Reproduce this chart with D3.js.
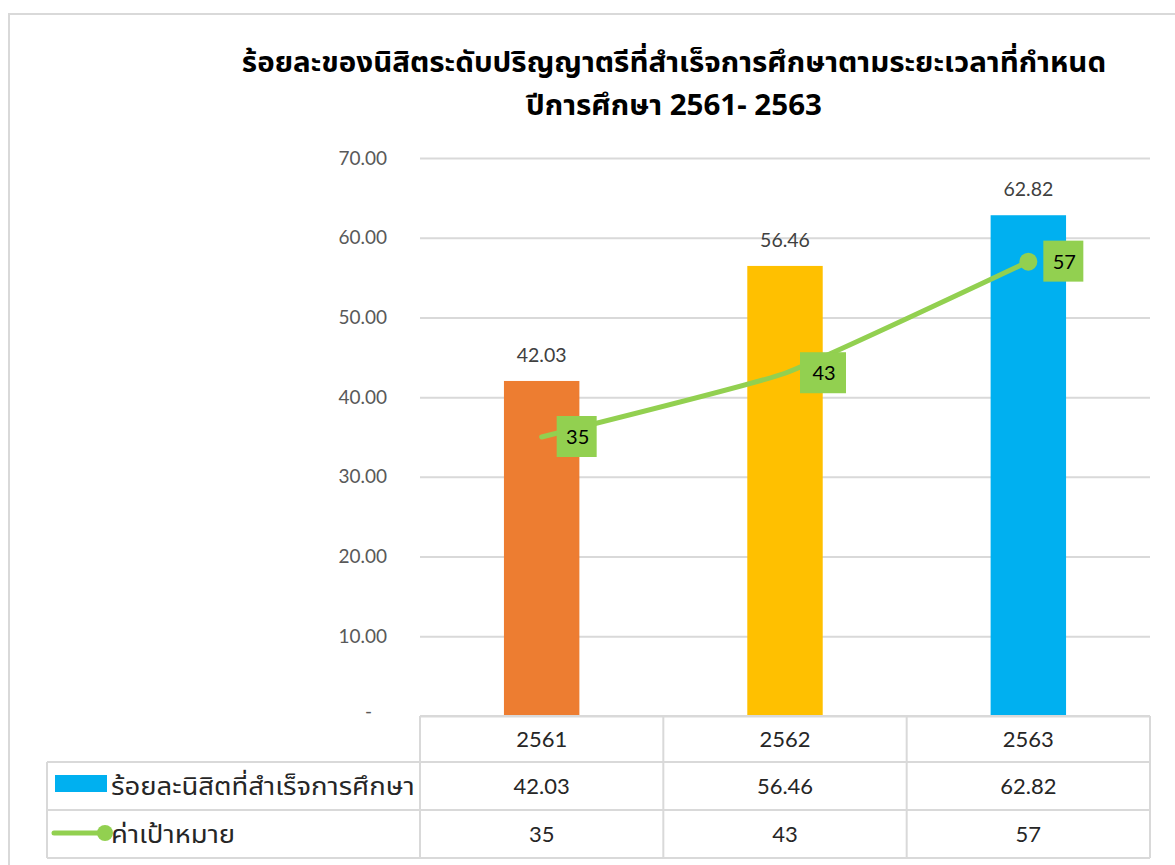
<!DOCTYPE html>
<html>
<head>
<meta charset="utf-8">
<script src="https://cdn.jsdelivr.net/npm/d3@7"></script>
<style>
  body { margin: 0; background: #fff; }
  svg { display: block; font-family: "Noto Sans", "Noto Sans Thai", Lato, sans-serif; }
</style>
</head>
<body>
<div id="chart"></div>
<script>
(function () {
    // data
    const years = ["2561", "2562", "2563"];
    const gradRate = [42.03, 56.46, 62.82];
    const target = [35, 43, 57];
    const barColors = ["#ed7d31", "#ffc000", "#00b0f0"];
    const yTicks = [0, 10, 20, 30, 40, 50, 60, 70];
    const seriesNames = ["ร้อยละนิสิตที่สำเร็จการศึกษา", "ค่าเป้าหมาย"];
    const titleLines = ["ร้อยละของนิสิตระดับปริญญาตรีที่สำเร็จการศึกษาตามระยะเวลาที่กำหนด", "ปีการศึกษา 2561- 2563"];

    const W = 1175, H = 865;
    const plot = { left: 420, right: 1150, top: 158, bottom: 716 };
    const rowH = [46, 48, 48];
    const lineColor = "#92d050";
    const gridColor = "#d9d9d9";
    const numFont = "Lato, 'Noto Sans', sans-serif";

    const svg = d3.select("#chart").append("svg")
        .attr("width", W).attr("height", H);

    // outer chart border
    svg.append("path")
        .attr("d", `M9,${H} V14 H${W}`)
        .attr("fill", "none").attr("stroke", gridColor).attr("stroke-width", 2);

    // title
    svg.append("g").selectAll("text")
        .data(titleLines)
        .join("text")
        .attr("x", 674)
        .attr("y", (d, i) => 72 + i * 43)
        .attr("text-anchor", "middle")
        .attr("font-size", 28)
        .attr("font-weight", "bold")
        .attr("fill", "#000")
        .attr("transform", "translate(674,0) scale(1.055,1) translate(-674,0)")
        .text(d => d);

    // scales
    const x = d3.scaleBand().domain(years).range([plot.left, plot.right]);
    const y = d3.scaleLinear().domain([0, 70]).range([plot.bottom, plot.top]);

    // y axis + grid
    const yAxis = svg.append("g")
        .attr("transform", `translate(${plot.left},0)`)
        .call(d3.axisLeft(y).tickValues(yTicks)
            .tickSize(-(plot.right - plot.left))
            .tickPadding(33)
            .tickFormat(d => d === 0 ? "-" : d.toFixed(2)));
    yAxis.select(".domain").remove();
    yAxis.selectAll(".tick line")
        .attr("stroke", gridColor).attr("stroke-width", 2);
    yAxis.selectAll(".tick text")
        .attr("font-size", 19)
        .attr("fill", "#595959")
        .attr("font-family", numFont);
    yAxis.selectAll(".tick")
        .filter(d => d === 0)
        .select("text")
        .attr("x", -48).attr("dy", "0.1em");

    // bars
    const barW = x.bandwidth() * 0.31;
    svg.append("g").selectAll("rect")
        .data(gradRate)
        .join("rect")
        .attr("x", (d, i) => x(years[i]) + (x.bandwidth() - barW) / 2)
        .attr("y", d => y(d))
        .attr("width", barW)
        .attr("height", d => y(0) - y(d))
        .attr("fill", (d, i) => barColors[i]);

    svg.append("g").selectAll("text")
        .data(gradRate)
        .join("text")
        .attr("x", (d, i) => x(years[i]) + x.bandwidth() / 2)
        .attr("y", d => y(d) - 19)
        .attr("text-anchor", "middle")
        .attr("font-size", 19.5)
        .attr("fill", "#404040")
        .attr("font-family", numFont)
        .text(d => d.toFixed(2));

    // target line
    const cx = i => x(years[i]) + x.bandwidth() / 2;
    const line = d3.line()
        .x((d, i) => cx(i))
        .y(d => y(d))
        .curve(d3.curveCardinal.tension(0.65));
    svg.append("path")
        .datum(target)
        .attr("d", line)
        .attr("fill", "none")
        .attr("stroke", lineColor)
        .attr("stroke-width", 5)
        .attr("stroke-linecap", "round");
    svg.append("circle")
        .attr("cx", cx(target.length - 1))
        .attr("cy", y(target[target.length - 1]))
        .attr("r", 9)
        .attr("fill", lineColor);

    // target labels
    const lab = svg.append("g").selectAll("g")
        .data(target)
        .join("g")
        .attr("transform", (d, i) => `translate(${cx(i) + 15},${y(d)})`);
    lab.append("rect")
        .attr("x", 0).attr("y", -21)
        .attr("width", (d, i) => i === 1 ? 46 : 40)
        .attr("height", 41)
        .attr("fill", lineColor);
    lab.append("text")
        .attr("x", (d, i) => i === 1 ? 24 : 21)
        .attr("y", 7)
        .attr("text-anchor", "middle")
        .attr("font-size", 20)
        .attr("fill", "#000")
        .attr("font-family", numFont)
        .text(d => d);

    // data table
    const rowTop = [plot.bottom, plot.bottom + rowH[0], plot.bottom + rowH[0] + rowH[1]];
    const tableBottom = rowTop[2] + rowH[2];
    const tbl = svg.append("g")
        .attr("stroke", gridColor).attr("stroke-width", 2).attr("fill", "none");
    // horizontal lines
    tbl.append("line").attr("x1", plot.left).attr("x2", plot.right).attr("y1", rowTop[0]).attr("y2", rowTop[0]);
    [rowTop[1], rowTop[2], tableBottom].forEach(yy => {
        tbl.append("line").attr("x1", 47).attr("x2", plot.right).attr("y1", yy).attr("y2", yy);
    });
    // vertical lines
    years.concat(["end"]).forEach((yr, i) => {
        const xx = i < years.length ? x(yr) : plot.right;
        tbl.append("line").attr("x1", xx).attr("x2", xx).attr("y1", rowTop[0]).attr("y2", tableBottom);
    });
    tbl.append("line").attr("x1", 47).attr("x2", 47).attr("y1", rowTop[1]).attr("y2", tableBottom);

    const rows = [years, gradRate.map(d => d.toFixed(2)), target.map(String)];
    rows.forEach((vals, r) => {
        svg.append("g").selectAll("text")
            .data(vals)
            .join("text")
            .attr("x", (d, i) => x(years[i]) + x.bandwidth() / 2)
            .attr("y", rowTop[r] + rowH[r] / 2 + 8)
            .attr("text-anchor", "middle")
            .attr("font-size", 22)
            .attr("fill", "#262626")
            .attr("font-family", numFont)
            .text(d => d);
    });

    // legend keys in the table
    svg.append("rect")
        .attr("x", 55).attr("y", rowTop[1] + 13)
        .attr("width", 52).attr("height", 17)
        .attr("fill", barColors[2]);
    const ly = rowTop[2] + 23;
    svg.append("line")
        .attr("x1", 54).attr("x2", 105).attr("y1", ly).attr("y2", ly)
        .attr("stroke", lineColor).attr("stroke-width", 5).attr("stroke-linecap", "round");
    svg.append("circle").attr("cx", 105).attr("cy", ly).attr("r", 8).attr("fill", lineColor);

    svg.append("g").selectAll("text")
        .data(seriesNames)
        .join("text")
        .attr("x", 0)
        .attr("y", 0)
        .attr("font-size", 25)
        .attr("fill", "#262626")
        .attr("transform", (d, i) => `translate(111,${rowTop[i + 1] + rowH[i + 1] / 2 + 9}) scale(1.1,1)`)
        .text(d => d);
})();
</script>
</body>
</html>
